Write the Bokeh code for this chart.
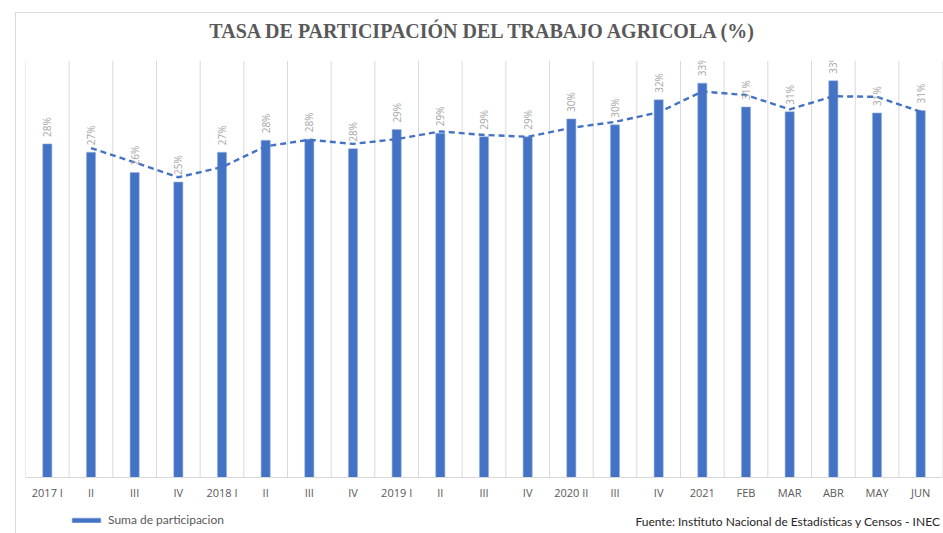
from bokeh.plotting import figure
from bokeh.models import FixedTicker, Label, ColumnDataSource, Range1d, Legend, LegendItem
from bokeh.embed import file_html
from bokeh.resources import INLINE
from bokeh.core.properties import value

categories = ["2017 I", "II", "III", "IV", "2018 I", "II", "III", "IV", "2019 I", "II", "III",
              "IV", "2020 II", "III", "IV", "2021", "FEB", "MAR", "ABR", "MAY", "JUN"]
participation = [28.0, 27.3, 25.6, 24.8, 27.3, 28.3, 28.4, 27.6, 29.2, 28.9, 28.6,
                 28.6, 30.1, 29.6, 31.7, 33.1, 31.1, 30.7, 33.3, 30.6, 30.8]

xs = list(range(len(categories)))
labels = [f"{v:.0f}%" for v in participation]
src = ColumnDataSource(dict(x=xs, y=participation, lab=labels))

# two-period moving average trendline (as in the original Excel chart)
ma_x = xs[1:]
ma_y = [(participation[i - 1] + participation[i]) / 2 for i in range(1, len(participation))]

# category boundaries (vertical separators)
bounds = [i - 0.5 for i in range(len(categories) + 1)]

BLUE = "#4472C4"
GRAY = "#595959"
YMAX = 35

p = figure(width=943, height=533, output_backend="svg", toolbar_location=None,
           x_range=Range1d(-0.5, len(categories) - 0.5), y_range=Range1d(-4.70, YMAX),
           min_border_left=25, min_border_right=1, min_border_top=60, min_border_bottom=0,
           border_fill_color=None)
# chart-area border (left and top edges of the Excel chart box)
p.styles = {"background": "linear-gradient(#D9D9D9, #D9D9D9) 15px 12px / 1px 100% no-repeat, "
                          "linear-gradient(#D9D9D9, #D9D9D9) 15px 12px / 100% 1px no-repeat, white"}

p.title.text = "TASA DE PARTICIPACIÓN DEL TRABAJO AGRICOLA (%)"
p.title.align = "center"
p.title.vertical_align = "top"
p.title.text_font = "Liberation Serif"
p.title.text_font_size = "20px"
p.title.text_font_style = "bold"
p.title.text_color = GRAY
p.title.standoff = 34

p.segment(x0=bounds, y0=[0] * len(bounds), x1=bounds, y1=[YMAX] * len(bounds),
          line_color="#D9D9D9", line_width=1)
bars = p.vbar(x="x", top="y", width=0.21, source=src, fill_color=BLUE,
              line_color="#9DB5E3", line_width=0.6)
p.line(ma_x, ma_y, line_color=BLUE, line_width=2.4, line_dash="6 4")
p.text(x="x", y="y", text="lab", source=src, angle=1.5708, text_align="left",
       text_baseline="middle", y_offset=-7, text_color="#A6A6A6",
       text_font=value("Open Sans"), text_font_size="10px")

p.yaxis.visible = False
p.ygrid.visible = False
p.xgrid.visible = False
p.xaxis.fixed_location = 0
p.xaxis.ticker = FixedTicker(ticks=xs)
p.xaxis.major_label_overrides = {i: c for i, c in zip(xs, categories)}
p.xaxis.major_tick_line_color = None
p.xaxis.minor_tick_line_color = None
p.xaxis.axis_line_color = "#D9D9D9"
p.xaxis.major_label_text_color = GRAY
p.xaxis.major_label_text_font = "Open Sans"
p.xaxis.major_label_text_font_size = "11px"
p.xaxis.major_label_standoff = 1
p.outline_line_color = None

legend = Legend(items=[LegendItem(label="Suma de participacion", renderers=[bars])],
                location=(43, 6), glyph_width=36, glyph_height=6, label_height=14,
                label_standoff=4, padding=0, margin=0, spacing=0,
                background_fill_alpha=0, border_line_color=None,
                label_text_font="Lato", label_text_font_size="12px", label_text_color=GRAY)
p.add_layout(legend)

p.add_layout(Label(x=915, y=12, x_units="screen", y_units="screen",
                   text="Fuente: Instituto Nacional de Estadísticas y Censos - INEC",
                   text_font="Lato", text_font_size="12px", text_color="#262626",
                   text_align="right", text_baseline="middle"))

open("out.html", "w").write(file_html(p, INLINE))
